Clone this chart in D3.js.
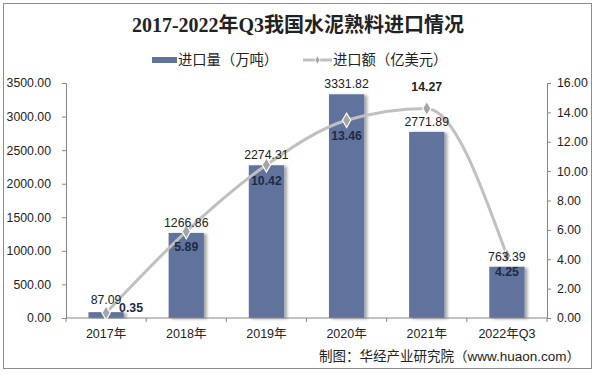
<!DOCTYPE html>
<html><head><meta charset="utf-8">
<script src="https://cdn.jsdelivr.net/npm/d3@7"></script>
<style>body{margin:0;background:#fff}svg{display:block}</style>
</head><body>
<svg id="c" width="597" height="375"></svg>
<script>
const categories = ["2017年","2018年","2019年","2020年","2021年","2022年Q3"];
const volume = [87.09,1266.86,2274.31,3331.82,2771.89,763.39];
const amount = [0.35,5.89,10.42,13.46,14.27,4.25];
const leftTicks = [0,500,1000,1500,2000,2500,3000,3500];
const rightTicks = [0,2,4,6,8,10,12,14,16];

const svg = d3.select("#c");
const font = "'Liberation Sans', Arial, 'Noto Sans CJK SC', sans-serif";
const cjk = "'Liberation Sans', 'Noto Sans CJK SC', sans-serif";
const m = {l:66, r:547, t:83, b:318};

svg.append("rect").attr("x",3.5).attr("y",3.5).attr("width",588).attr("height",365)
  .attr("fill","#fff").attr("stroke","#8c8c8c").attr("stroke-width",1);

const defs = svg.append("defs");
const f = defs.append("filter").attr("id","sh").attr("x","-20%").attr("y","-5%").attr("width","160%").attr("height","120%");
f.append("feGaussianBlur").attr("in","SourceAlpha").attr("stdDeviation",1.5).attr("result","b");
f.append("feOffset").attr("in","b").attr("dx",3).attr("dy",1).attr("result","o");
f.append("feComponentTransfer").attr("in","o").attr("result","o2").append("feFuncA").attr("type","linear").attr("slope",0.35);
const fm = f.append("feMerge"); fm.append("feMergeNode").attr("in","o2"); fm.append("feMergeNode").attr("in","SourceGraphic");

const x = d3.scaleBand().domain(categories).range([m.l,m.r]).paddingInner(0.56).paddingOuter(0.28);
const xb = d3.scaleBand().domain(categories).range([m.l,m.r]);
const yL = d3.scaleLinear().domain([0,3500]).range([m.b,m.t]);
const yR = d3.scaleLinear().domain([0,16]).range([m.b,m.t]);

// title
svg.append("text").attr("x",298).attr("y",32).attr("text-anchor","middle")
  .attr("font-family","'Liberation Serif','Noto Sans CJK SC',serif").attr("font-weight","bold")
  .attr("font-size",20).attr("fill","#222").text("2017-2022年Q3我国水泥熟料进口情况");

// legend
svg.append("rect").attr("x",152).attr("y",57).attr("width",25).attr("height",6).attr("fill","#60739c");
svg.append("text").attr("x",178).attr("y",65).attr("font-family",cjk).attr("font-size",14.3).attr("fill","#222").text("进口量（万吨）");
svg.append("line").attr("x1",303).attr("x2",332).attr("y1",60).attr("y2",60).attr("stroke","#c0c0c0").attr("stroke-width",3);
svg.append("path").attr("d",d3.symbol(d3.symbolDiamond,22)()).attr("transform","translate(317.5,60)").attr("fill","#a5a5a5").attr("stroke","#fff").attr("stroke-width",0.8);
svg.append("text").attr("x",333).attr("y",65).attr("font-family",cjk).attr("font-size",14.3).attr("fill","#222").text("进口额（亿美元）");

// axes
const gL = svg.append("g").attr("transform",`translate(${m.l},0)`)
  .call(d3.axisLeft(yL).tickValues(leftTicks).tickFormat(d3.format(".2f")).tickSize(4).tickPadding(11));
const gR = svg.append("g").attr("transform",`translate(${m.r},0)`)
  .call(d3.axisRight(yR).tickValues(rightTicks).tickFormat(d3.format(".2f")).tickSize(4).tickPadding(6));
[gL,gR].forEach(g=>{
  g.select(".domain").attr("stroke","#868686");
  g.selectAll(".tick line").attr("stroke","#868686");
  g.selectAll("text").attr("font-family",font).attr("font-size",12.3).attr("fill","#222");
});

// bars
svg.append("g").selectAll("rect").data(categories).join("rect")
  .attr("x",d=>x(d)).attr("width",x.bandwidth())
  .attr("y",(d,i)=>yL(volume[i])).attr("height",(d,i)=>yL(0)-yL(volume[i]))
  .attr("fill","#60739c").attr("filter","url(#sh)");

// x axis
const gX = svg.append("g").attr("transform",`translate(0,${m.b})`);
gX.append("line").attr("x1",m.l).attr("x2",m.r).attr("stroke","#868686");
gX.selectAll("line.t").data(d3.range(categories.length+1)).join("line").attr("class","t")
  .attr("x1",i=>m.l+i*xb.step()).attr("x2",i=>m.l+i*xb.step()).attr("y1",0).attr("y2",4).attr("stroke","#868686");
gX.selectAll("text").data(categories).join("text")
  .attr("x",d=>xb(d)+xb.bandwidth()/2).attr("y",20).attr("text-anchor","middle")
  .attr("font-family",cjk).attr("font-size",12.5).attr("fill","#222").text(d=>d);

// line
const cx = i=>xb(categories[i])+xb.bandwidth()/2;
const line = d3.line().x((d,i)=>cx(i)).y(d=>yR(d)).curve(d3.curveMonotoneX);
svg.append("path").datum(amount).attr("d",line).attr("fill","none").attr("stroke","#c0c0c0").attr("stroke-width",3);
svg.append("g").selectAll("path").data(amount).join("path")
  .attr("d",d3.symbol(d3.symbolDiamond,60)())
  .attr("transform",(d,i)=>`translate(${cx(i)},${yR(d)})`)
  .attr("fill","#a5a5a5").attr("stroke","#fff").attr("stroke-width",1.2);

// bar labels
svg.append("g").selectAll("text").data(volume).join("text")
  .attr("x",(d,i)=>cx(i)).attr("y",(d,i)=> i===0 ? yL(d)-8 : yL(d)-6).attr("text-anchor","middle")
  .attr("font-family",font).attr("font-size",12.3).attr("fill","#222").text(d=>d.toFixed(2));

// line labels
svg.append("g").selectAll("text").data(amount).join("text")
  .attr("x",(d,i)=>cx(i)+(i===0?25:0)).attr("y",(d,i)=> i===4 ? yR(d)-17 : (i===0? yR(d)-1 : yR(d)+20))
  .attr("text-anchor","middle").attr("font-family",font).attr("font-weight","bold")
  .attr("font-size",12.3).attr("fill",(d,i)=>i===4?"#222":"#1e2a45").text(d=>d.toFixed(2));

// source
svg.append("text").attr("x",580).attr("y",361).attr("text-anchor","end")
  .attr("font-family",cjk).attr("font-size",13.5).attr("fill","#222").text("制图：华经产业研究院（www.huaon.com）");
</script>
</body></html>
